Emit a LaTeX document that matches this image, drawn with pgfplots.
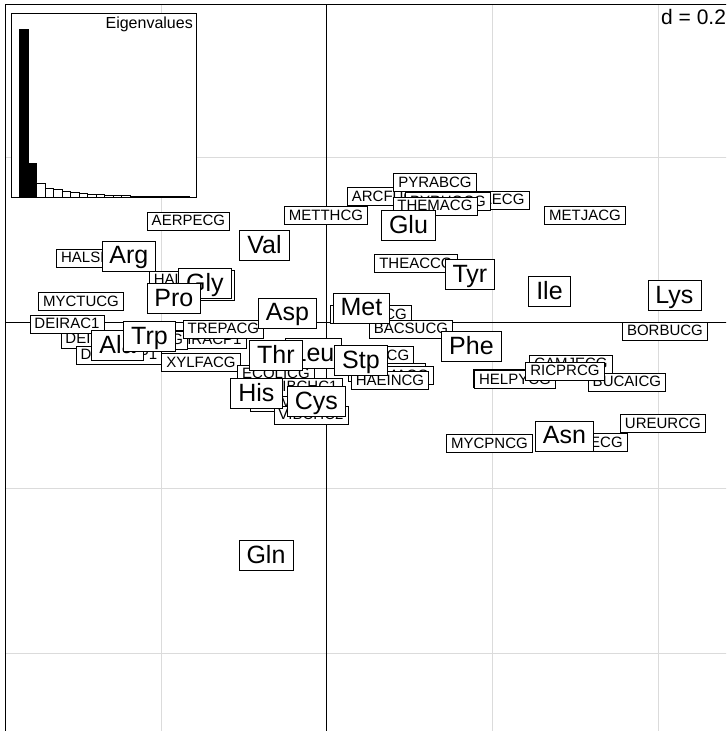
\documentclass[border=0pt]{standalone}
\usepackage{pgfplots}
\pgfplotsset{compat=1.18}
\usepackage{pgfplotstable}
\usepackage{fontspec}
\setmainfont{Liberation Sans}

% genomes (rows), drawn first
\pgfplotstableread{
x y label
-0.2779 0.0779 HALSPCG
-0.2973 0.0254 MYCTUCG
-0.2767 -0.0199 DEIRAC2
-0.3142 -0.0018 DEIRAC1
-0.2514 -0.0393 DEIRAMP1
-0.1486 -0.0205 DEIRACP1
-0.2187 -0.0211 MYCLECG
-0.1644 0.0514 HALMACG
-0.1251 -0.0079 TREPACG
-0.1523 -0.0483 XYLFACG
-0.1674 0.1227 AERPECG
-0.0012 0.1293 METTHCG
0.0749 0.1523 ARCFUCG
0.1934 0.1480 AQUAECG
0.1462 0.1462 PYRHOCG
0.1305 0.1692 PYRABCG
0.1305 0.1408 THEMACG
0.3118 0.1293 METJACG
0.1076 0.0713 THEACCG
0.0532 0.0097 SYNY3CG
0.1015 -0.0079 BACSUCG
-0.0616 -0.0622 ECOLICG
-0.0447 -0.0967 NEIMBCG
-0.0266 -0.0779 VIBCHC1
-0.0193 -0.1118 VIBCHC2
0.0556 -0.0399 PSEAECG
0.0725 -0.0604 SALTYCG
0.0810 -0.0640 NEIMACG
0.0761 -0.0701 HAEINCG
0.2248 -0.0677 HELPJCG
0.2949 -0.0502 CAMJECG
0.2272 -0.0689 HELPYCG
0.3625 -0.0719 BUCAICG
0.2876 -0.0586 RICPRCG
0.4085 -0.0103 BORBUCG
0.4060 -0.1221 UREURCG
0.1964 -0.1462 MYCPNCG
0.3106 -0.1450 MYCGECG
}\genometab

% amino acids (columns), drawn on top
\pgfplotstableread{
x y label
-0.2532 -0.0278 Ala
-0.2393 0.0804 Arg
0.2870 -0.1372 Asn
-0.0477 0.0115 Asp
-0.0127 -0.0955 Cys
-0.0737 -0.2816 Gln
0.0985 0.1172 Glu
-0.1444 0.0447 Ser
-0.1474 0.0471 Gly
-0.0852 -0.0858 His
0.2689 0.0375 Ile
-0.0163 -0.0375 Leu
0.4199 0.0326 Lys
0.0417 0.0175 Met
0.1746 -0.0290 Phe
-0.1849 0.0290 Pro
0.0411 -0.0459 Stp
-0.0616 -0.0399 Thr
-0.2145 -0.0169 Trp
0.1728 0.0580 Tyr
-0.0755 0.0931 Val
}\aminotab

\begin{document}
\begin{tikzpicture}[x=1pt,y=1pt]
\path[use as bounding box] (0,0) rectangle (726,731);
\clip (0,0) rectangle (726,731);
\fill[white] (0,0) rectangle (726,731);

\begin{axis}[
  at={(6,-6.75)}, anchor=south west,
  x=827.5pt, y=827.5pt,
  xmin=-0.3891, xmax=0.52, ymin=-0.5, ymax=0.3843,
  xtick={-0.2,0.2,0.4}, ytick={-0.4,-0.2,0.2},
  xticklabels={}, yticklabels={},
  major tick length=0pt,
  grid=major,
  major grid style={black!14, line width=0.9pt},
  extra x ticks={0}, extra y ticks={0},
  extra x tick labels={}, extra y tick labels={},
  extra x tick style={major grid style={black, line width=0.9pt}},
  extra y tick style={major grid style={black, line width=0.9pt}},
  axis line style={line width=0.9pt},
  clip=false,
]
\addplot[only marks, mark=none, nodes near coords, point meta=explicit symbolic,
  every node near coord/.append style={anchor=center, draw=black, fill=white, text=black,
    line width=0.8pt, font=\fontsize{15}{15}\selectfont,
    inner xsep=4.5pt, inner ysep=2.25pt, text height=11.25pt, text depth=2.25pt}]
  table[x=x, y=y, meta=label] {\genometab};
\addplot[only marks, mark=none, nodes near coords, point meta=explicit symbolic,
  every node near coord/.append style={anchor=center, draw=black, fill=white, text=black,
    line width=0.8pt, font=\fontsize{25}{25}\selectfont,
    inner xsep=7.5pt, inner ysep=3.75pt, text height=18.75pt, text depth=3.75pt}]
  table[x=x, y=y, meta=label] {\aminotab};
\end{axis}

\begin{axis}[
  at={(14,534)}, anchor=south west,
  width=185pt, height=184pt, scale only axis,
  xmin=-0.4, xmax=21.35, ymin=0, ymax=184,
  ticks=none,
  axis background/.style={fill=white},
  axis line style={line width=0.9pt},
]
\addplot[ybar, bar width=1, bar shift=0pt, fill=black, draw=black, line width=0.7pt]
  coordinates {(1,167.3) (2,33.3)};
\addplot[ybar, bar width=1, bar shift=0pt, fill=white, draw=black, line width=0.7pt]
  coordinates {(3,14) (4,9) (5,7.7) (6,5.7) (7,4.3) (8,3.3) (9,2.7) (10,2.3)
    (11,2) (12,1.7) (13,1.3) (14,1) (15,1) (16,0.7) (17,0.5) (18,0.4) (19,0.3) (20,0.2)};
\end{axis}

\node[anchor=base east, inner sep=0pt, font=\fontsize{16}{16}\selectfont] at (193,702.7) {Eigenvalues};
\node[anchor=base west, inner sep=0pt, font=\fontsize{21}{21}\selectfont] at (661,706) {d = 0.2};
\end{tikzpicture}
\end{document}
